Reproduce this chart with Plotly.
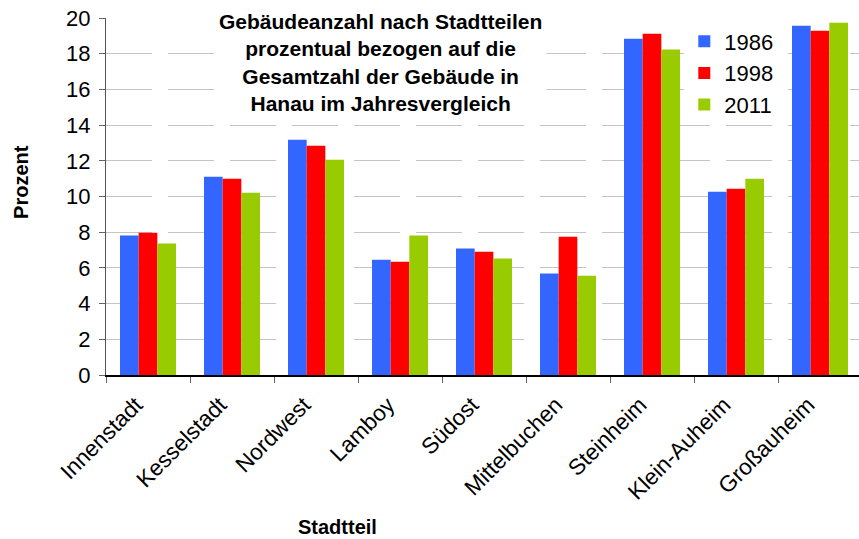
import plotly.graph_objects as go

stadtteile = ["Innenstadt", "Kesselstadt", "Nordwest", "Lamboy", "Südost",
              "Mittelbuchen", "Steinheim", "Klein-Auheim", "Großauheim"]
werte_1986 = [7.81, 11.11, 13.18, 6.46, 7.08, 5.68, 18.84, 10.27, 19.57]
werte_1998 = [7.97, 11.00, 12.85, 6.35, 6.91, 7.75, 19.12, 10.44, 19.29]
werte_2011 = [7.36, 10.21, 12.06, 7.81, 6.52, 5.56, 18.23, 11.00, 19.74]
jahre = ["1986", "1998", "2011"]
farben = ["#3366FF", "#FF0000", "#99CC00"]
y_ticks = list(range(0, 21, 2))

FONT = "Liberation Sans, Arial, sans-serif"

fig = go.Figure()
for jahr, werte, farbe in zip(jahre, [werte_1986, werte_1998, werte_2011], farben):
    fig.add_trace(go.Bar(x=stadtteile, y=werte, name=jahr,
                         marker=dict(color=farbe, line=dict(width=0))))

fig.update_layout(
    width=859, height=539,
    margin=dict(l=106, r=0, t=18, b=164),
    paper_bgcolor="white", plot_bgcolor="white",
    font=dict(family=FONT, size=20, color="black"),
    barmode="group", bargap=1/3, bargroupgap=0,
    showlegend=True,
    legend=dict(x=0.768, y=0.993, xanchor="left", yanchor="top",
                bgcolor="white", borderwidth=0,
                font=dict(family=FONT, size=22, color="black"),
                tracegroupgap=0, itemwidth=30),
    xaxis=dict(
        type="category", range=[-0.5, -0.5 + 753 / 84],
        tickson="boundaries", ticks="outside", ticklen=6, tickcolor="#666666",
        tickangle=-45, tickfont=dict(family=FONT, size=22.5),
        ticklabelshift=-12, ticklabelstandoff=6,
        showline=True, linecolor="black", linewidth=1.5,
        showgrid=False, zeroline=False,
    ),
    yaxis=dict(
        range=[0, 20], tickvals=y_ticks, ticktext=[str(v) for v in y_ticks],
        ticks="outside", ticklen=6, tickcolor="#666666",
        tickfont=dict(family=FONT, size=22), ticklabelstandoff=4,
        showline=True, linecolor="#555555", linewidth=1,
        showgrid=True, gridcolor="#c4c4c4", gridwidth=1.2, griddash="46px,16px",
        zeroline=False,
    ),
    annotations=[
        dict(text="<b>Gebäudeanzahl nach Stadtteilen<br>prozentual bezogen auf die<br>"
                  "Gesamtzahl der Gebäude in<br>Hanau im Jahresvergleich</b>",
             xref="paper", yref="paper", x=0.365, y=0.876,
             xanchor="center", yanchor="middle", showarrow=False,
             align="center", bgcolor="white", borderpad=4,
             font=dict(family=FONT, size=21, color="black")),
        dict(text="<b>Prozent</b>", xref="paper", yref="paper",
             x=-0.112, y=0.54, textangle=-90, showarrow=False,
             xanchor="center", yanchor="middle",
             font=dict(family=FONT, size=20, color="black")),
        dict(text="<b>Stadtteil</b>", xref="paper", yref="paper",
             x=(337 - 106) / 753, y=-(527 - 375) / 357, showarrow=False,
             xanchor="center", yanchor="middle",
             font=dict(family=FONT, size=20, color="black")),
    ],
)

fig.write_html("out.html")
